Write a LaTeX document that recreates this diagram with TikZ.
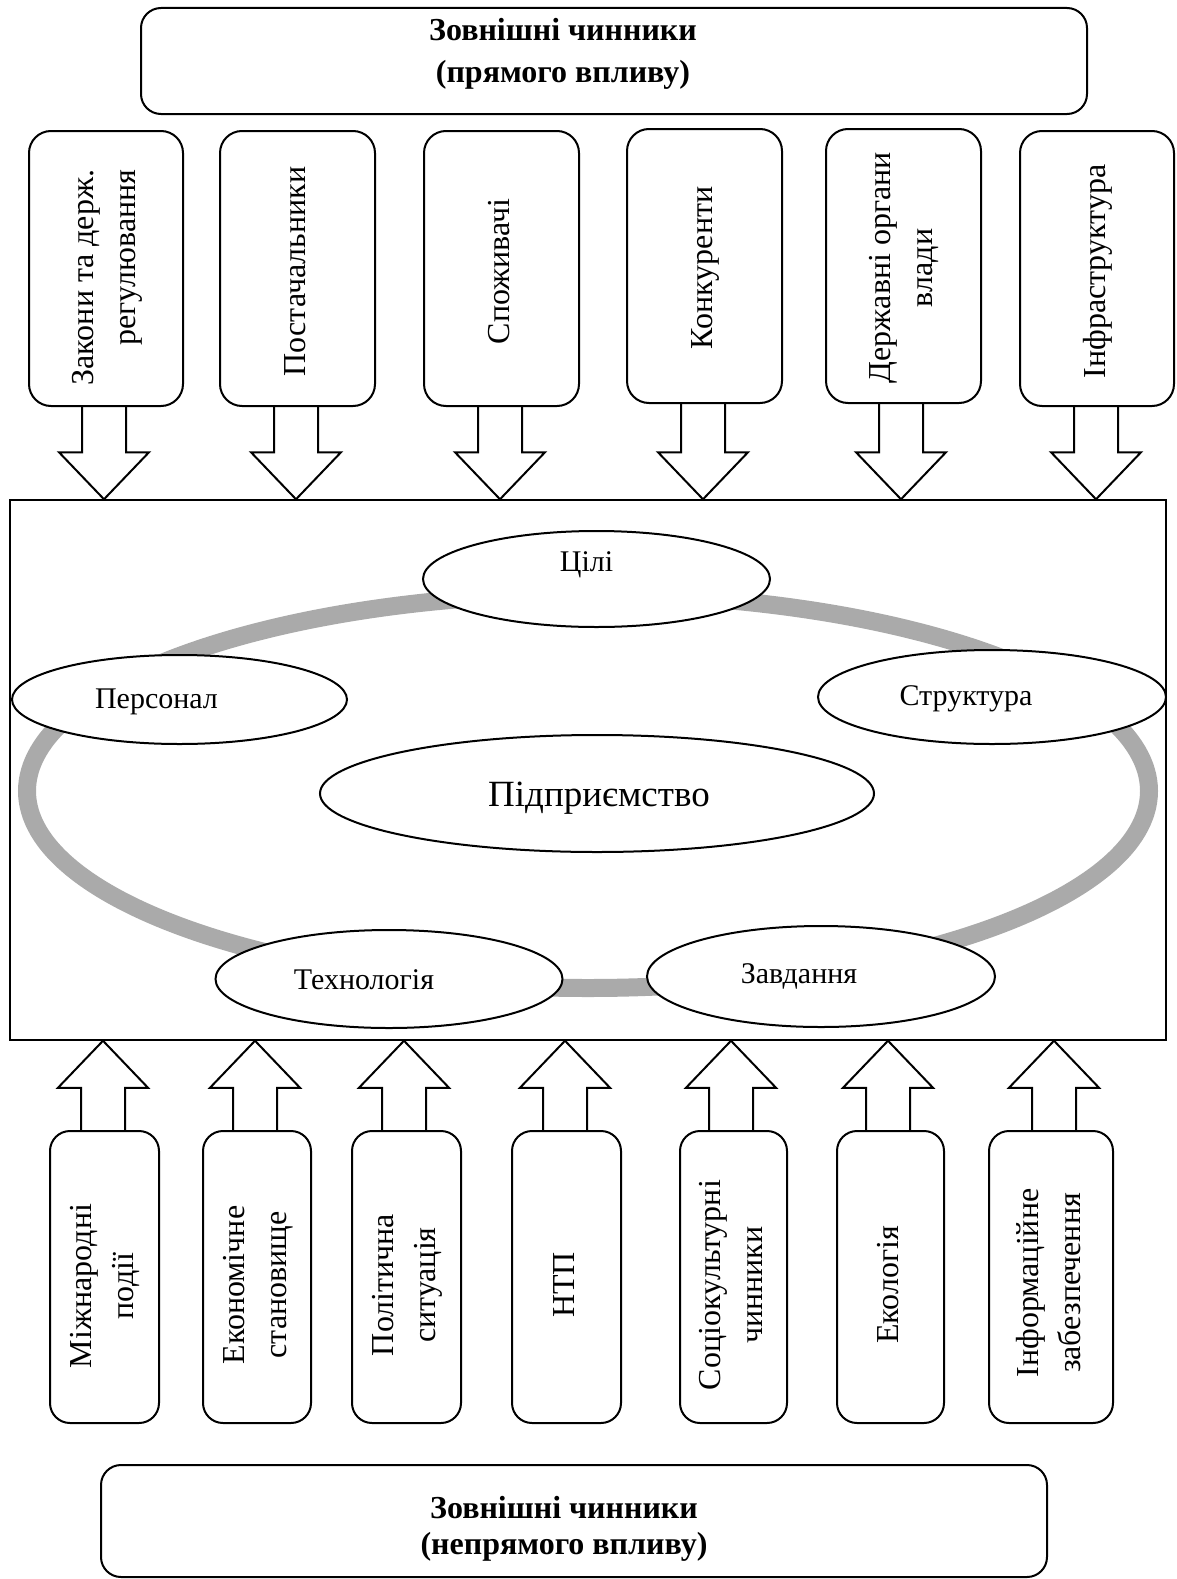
\documentclass[tikz,border=0pt]{standalone}
\usepackage{fontspec}
\setmainfont{Liberation Serif}
\usetikzlibrary{shapes.geometric,calc}
\definecolor{ringgray}{RGB}{170,170,170}
\tikzset{
  fbox/.style={draw, line width=2pt, rounded corners=22pt, inner sep=0pt},
  blk/.style={draw, line width=2pt, line join=miter},
  ell/.style={ellipse, draw, line width=2pt, fill=white, inner sep=0pt},
  lbl/.style={font=\fontsize{30}{36}\selectfont, inner sep=0pt},
  boxtxt/.style={font=\fontsize{32}{42}\selectfont},
  hdr/.style={font=\fontsize{32}{42}\selectfont\bfseries, align=center, inner sep=0pt},
}
\newcommand\DownBlk[2]{%
  \coordinate (#1-a) at ($(#1.south)+(#2,0)$);
  \coordinate (#1-b) at (#1-a |- main.north);
  \draw[blk] ([xshift=-22pt]#1-a) -- ([xshift=-22pt,yshift=47pt]#1-b) -- ([xshift=-45pt,yshift=47pt]#1-b) -- (#1-b) -- ([xshift=45pt,yshift=47pt]#1-b) -- ([xshift=22pt,yshift=47pt]#1-b) -- ([xshift=22pt]#1-a);
}
\newcommand\UpBlk[2]{%
  \coordinate (#1-a) at ($(#1.north)+(#2,0)$);
  \coordinate (#1-b) at (#1-a |- main.south);
  \draw[blk] ([xshift=-22pt]#1-a) -- ([xshift=-22pt,yshift=-47pt]#1-b) -- ([xshift=-45pt,yshift=-47pt]#1-b) -- (#1-b) -- ([xshift=45pt,yshift=-47pt]#1-b) -- ([xshift=22pt,yshift=-47pt]#1-b) -- ([xshift=22pt]#1-a);
}
\newcommand\VT[2][c]{\rotatebox{90}{\begin{tabular}{@{}#1@{}}#2\end{tabular}}}
\begin{document}
\begin{tikzpicture}[x=1pt,y=-1pt]
\useasboundingbox[fill=white] (0,0) rectangle (1177,1579);

% top header
\node[fbox, rounded corners=20pt, minimum width=946pt, minimum height=106pt] (toph) at (614,61) {};
\node[hdr] (tophtxt) at (563,54) {Зовнішні чинники\\(прямого впливу)};

% top factor boxes
\node[fbox, minimum width=154pt, minimum height=275pt] (t1) at (106,268.5) {};
\node[fbox, minimum width=155pt, minimum height=275pt] (t2) at (297.5,268.5) {};
\node[fbox, minimum width=155pt, minimum height=275pt] (t3) at (501.5,268.5) {};
\node[fbox, minimum width=155pt, minimum height=274pt] (t4) at (704.5,266) {};
\node[fbox, minimum width=155pt, minimum height=274pt] (t5) at (903.5,266) {};
\node[fbox, minimum width=154pt, minimum height=275pt] (t6) at (1097,268.5) {};
\node[boxtxt] at ($(t1)+(0,9)$) {\VT[r]{Закони та держ.\\регулювання}};
\node[boxtxt] at ($(t2)+(0,3)$) {\VT{Постачальники}};
\node[boxtxt] at ($(t3)+(0,3)$) {\VT{Споживачі}};
\node[boxtxt] at ($(t4)+(0,2)$) {\VT{Конкуренти}};
\node[boxtxt] at ($(t5)+(0,2)$) {\VT{Державні органи\\влади}};
\node[boxtxt] at ($(t6)+(0,3)$) {\VT{Інфраструктура}};

% main rectangle
\node[draw, line width=1.5pt, minimum width=1156pt, minimum height=540pt, inner sep=0pt] (main) at (588,770) {};

% arrows down
\DownBlk{t1}{-2}
\DownBlk{t2}{-1.5}
\DownBlk{t3}{-1.5}
\DownBlk{t4}{-1.5}
\DownBlk{t5}{-2.5}
\DownBlk{t6}{-1}

% ring
\draw[ringgray, line width=18pt] (588,791) ellipse [x radius=561pt, y radius=197pt];

% ellipses
\node[ell, minimum width=347pt, minimum height=96pt] (goals) at (596.5,579) {};
\node[ell, minimum width=335pt, minimum height=89pt] (pers) at (179.5,699.5) {};
\node[ell, minimum width=348pt, minimum height=94pt] (struct) at (992,697) {};
\node[ell, minimum width=554pt, minimum height=117pt] (ent) at (597,793.5) {};
\node[ell, minimum width=347pt, minimum height=98pt] (tech) at (389,979) {};
\node[ell, minimum width=348pt, minimum height=101pt] (tasks) at (821,976.5) {};
\node[lbl] at ($(goals)+(-10,-14)$) {Цілі};
\node[lbl] at ($(pers)+(-23,2)$) {Персонал};
\node[lbl] at ($(struct)+(-26,2)$) {Структура};
\node[lbl, font=\fontsize{37}{44}\selectfont] at ($(ent)+(2,5)$) {Підприємство};
\node[lbl] at ($(tech)+(-25,1)$) {Технологія};
\node[lbl] at ($(tasks)+(-22,0)$) {Завдання};

% bottom factor boxes
\node[fbox, rounded corners=20pt, minimum width=109pt, minimum height=292pt] (b1) at (104.5,1277) {};
\node[fbox, rounded corners=20pt, minimum width=108pt, minimum height=292pt] (b2) at (257,1277) {};
\node[fbox, rounded corners=20pt, minimum width=109pt, minimum height=292pt] (b3) at (406.5,1277) {};
\node[fbox, rounded corners=20pt, minimum width=109pt, minimum height=292pt] (b4) at (566.5,1277) {};
\node[fbox, rounded corners=20pt, minimum width=107pt, minimum height=292pt] (b5) at (733.5,1277) {};
\node[fbox, rounded corners=20pt, minimum width=107pt, minimum height=292pt] (b6) at (890.5,1277) {};
\node[fbox, rounded corners=20pt, minimum width=124pt, minimum height=292pt] (b7) at (1051,1277) {};
\node[boxtxt] at ($(b1)+(0,9)$) {\VT{Міжнародні\\події}};
\node[boxtxt] at ($(b2)+(0,8)$) {\VT{Економічне\\становище}};
\node[boxtxt] at ($(b3)+(0,8)$) {\VT{Політична\\ситуація}};
\node[boxtxt] at ($(b4)+(0,8)$) {\VT{НТП}};
\node[boxtxt] at ($(b5)+(0,8)$) {\VT{Соціокультурні\\чинники}};
\node[boxtxt] at ($(b6)+(0,8)$) {\VT{Екологія}};
\node[boxtxt] at ($(b7)+(0,6)$) {\VT{Інформаційне\\забезпечення}};

% arrows up
\UpBlk{b1}{-1.5}
\UpBlk{b2}{-2}
\UpBlk{b3}{-2.5}
\UpBlk{b4}{-1.5}
\UpBlk{b5}{-2.5}
\UpBlk{b6}{-2.5}
\UpBlk{b7}{3}

% bottom header
\node[fbox, rounded corners=20pt, minimum width=946pt, minimum height=112pt] (both) at (574,1521) {};
\node[hdr, font=\fontsize{32}{36}\selectfont\bfseries] (bothtxt) at (564,1529) {Зовнішні чинники\\(непрямого впливу)};
\end{tikzpicture}
\end{document}
